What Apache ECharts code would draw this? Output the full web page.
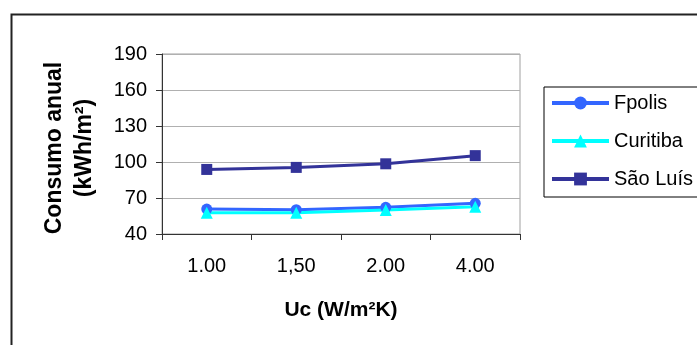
<!DOCTYPE html>
<html>
<head>
<meta charset="utf-8">
<style>
html,body{margin:0;padding:0;background:#fff;}
#chart{width:697px;height:345px;}
</style>
<script src="https://cdn.jsdelivr.net/npm/echarts@6/dist/echarts.min.js"></script>
</head>
<body>
<div id="chart"></div>
<script>
var categories = ['1.00', '1,50', '2.00', '4.00'];
var fpolis = [60.8, 60.3, 62.2, 65.6];
var curitiba = [57.8, 57.8, 60.0, 62.8];
var saoLuis = [93.8, 95.5, 98.5, 105.3];
var seriesNames = ['Fpolis', 'Curitiba', 'São Luís'];
var yMin = 40, yMax = 190, yStep = 30;

var FONT = "'Liberation Sans', Arial, sans-serif";
var chart = echarts.init(document.getElementById('chart'), null, {renderer: 'canvas'});

function lineSeries(name, data, color, symbol, size) {
  return {
    name: name, type: 'line', data: data,
    symbol: symbol, symbolSize: size,
    lineStyle: {color: color, width: 3},
    itemStyle: {color: color, borderWidth: 0},
    animation: false
  };
}

chart.setOption({
  backgroundColor: '#fff',
  animation: false,
  textStyle: {fontFamily: FONT},
  graphic: [{
    type: 'rect', silent: true, z: -10,
    shape: {x: 11.5, y: 14.5, width: 720, height: 400},
    style: {fill: 'none', stroke: '#222', lineWidth: 2}
  }],
  grid: {
    left: 162, right: 177, top: 54, bottom: 111,
    show: true, borderColor: '#a0a0a0', borderWidth: 1, backgroundColor: '#fff'
  },
  legend: {
    orient: 'vertical', left: 544, top: 87,
    data: seriesNames,
    itemWidth: 57, itemHeight: 16, itemGap: 16,
    padding: [5, 30, 7, 6],
    borderColor: '#000', borderWidth: 1,
    lineStyle: {width: 4},
    textStyle: {fontFamily: FONT, fontSize: 20, color: '#000', lineHeight: 22}
  },
  xAxis: {
    type: 'category', data: categories, boundaryGap: true,
    name: 'Uc (W/m²K)', nameLocation: 'middle', nameGap: 66,
    nameTextStyle: {fontFamily: FONT, fontSize: 21, fontWeight: 'bold', color: '#000'},
    axisLine: {lineStyle: {color: '#333', width: 1}},
    axisTick: {show: true, length: 6, lineStyle: {color: '#333'}},
    axisLabel: {fontFamily: FONT, fontSize: 20, color: '#000', margin: 22},
    splitLine: {show: false}
  },
  yAxis: {
    type: 'value', min: yMin, max: yMax, interval: yStep,
    name: 'Consumo anual\n(kWh/m²)', nameLocation: 'middle', nameRotate: 90, nameGap: 62,
    nameTextStyle: {fontFamily: FONT, fontSize: 23, fontWeight: 'bold', color: '#000', lineHeight: 30, padding: [0, 8, 0, 0]},
    axisLine: {show: true, lineStyle: {color: '#333', width: 1}},
    axisTick: {show: true, length: 6, lineStyle: {color: '#333'}},
    axisLabel: {fontFamily: FONT, fontSize: 20, color: '#000', margin: 15},
    splitLine: {show: true, lineStyle: {color: '#b0b0b0', width: 1}}
  },
  series: [
    lineSeries(seriesNames[0], fpolis, '#3366ff', 'circle', 11),
    lineSeries(seriesNames[1], curitiba, '#00ffff', 'triangle', 12),
    lineSeries(seriesNames[2], saoLuis, '#333399', 'rect', 11)
  ]
});
</script>
</body>
</html>
